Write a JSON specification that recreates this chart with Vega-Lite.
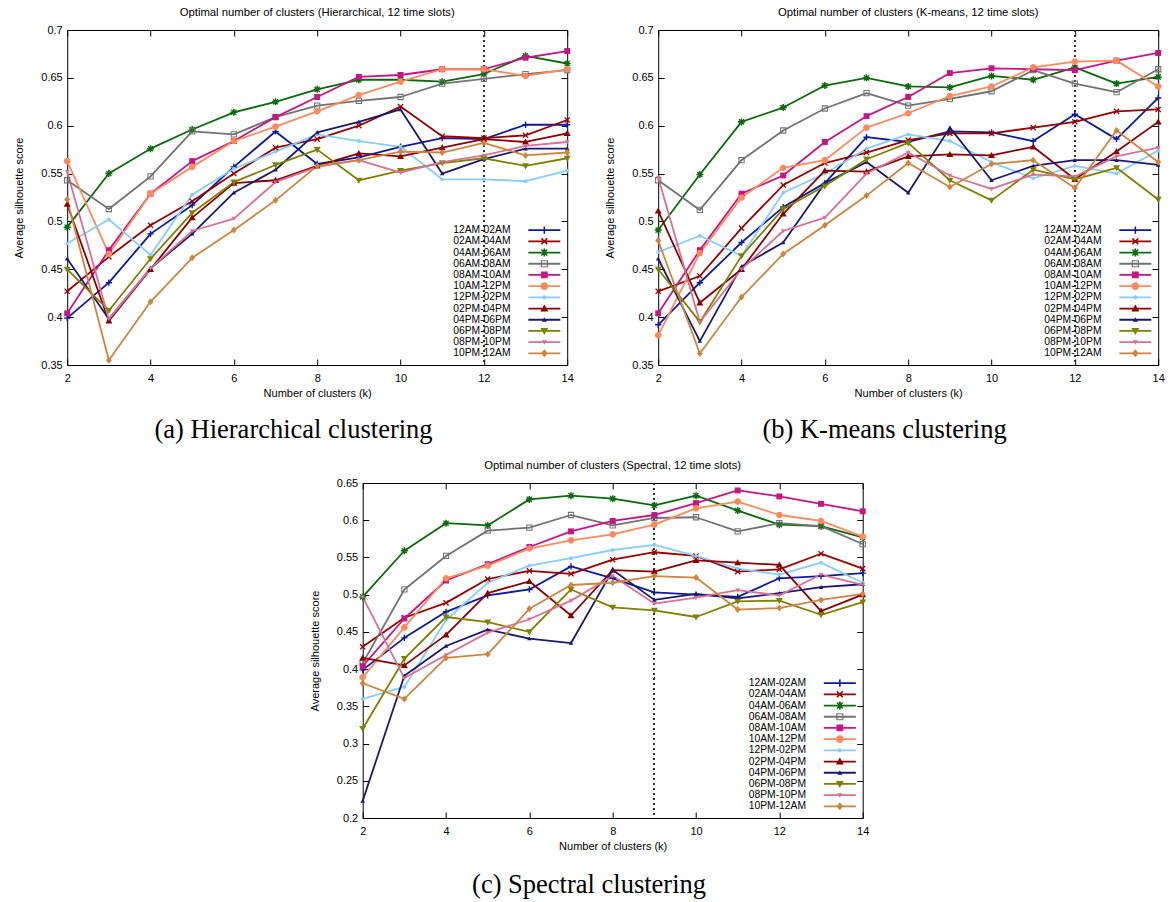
{
"$schema": "https://vega.github.io/schema/vega-lite/v6.json",
"background": "white",
"padding": {"left": 13, "top": 6, "right": 4, "bottom": 4},
"config": {
  "font": "Liberation Sans",
  "view": {"stroke": "black", "strokeWidth": 1},
  "axis": {"domain": false, "grid": false, "ticks": true, "tickColor": "black", "tickWidth": 1, "tickSize": -6, "labelFont": "Liberation Sans", "labelFontSize": 11, "labelColor": "black", "labelFlush": false, "labelOverlap": false, "titleFont": "Liberation Sans", "titleFontSize": 11, "titleFontWeight": "normal", "titleColor": "black"},
  "axisX": {"labelPadding": 13, "titlePadding": 4},
  "axisY": {"labelPadding": 11, "titlePadding": 16},
  "title": {"font": "Liberation Sans", "fontSize": 11.3, "fontWeight": "normal", "color": "black"},
  "legend": {"labelFont": "Liberation Sans", "labelFontSize": 10.3, "labelColor": "black"},
  "point": {"filled": true, "opacity": 1, "size": 49}
},
"datasets": {
"h": [
{"s":"12AM-02AM","k":2,"v":0.399},{"s":"12AM-02AM","k":3,"v":0.436},{"s":"12AM-02AM","k":4,"v":0.487},{"s":"12AM-02AM","k":5,"v":0.517},{"s":"12AM-02AM","k":6,"v":0.557},{"s":"12AM-02AM","k":7,"v":0.594},{"s":"12AM-02AM","k":8,"v":0.560},{"s":"12AM-02AM","k":9,"v":0.567},{"s":"12AM-02AM","k":10,"v":0.578},{"s":"12AM-02AM","k":11,"v":0.587},{"s":"12AM-02AM","k":12,"v":0.586},{"s":"12AM-02AM","k":13,"v":0.601},{"s":"12AM-02AM","k":14,"v":0.601},
{"s":"02AM-04AM","k":2,"v":0.427},{"s":"02AM-04AM","k":3,"v":0.463},{"s":"02AM-04AM","k":4,"v":0.496},{"s":"02AM-04AM","k":5,"v":0.521},{"s":"02AM-04AM","k":6,"v":0.550},{"s":"02AM-04AM","k":7,"v":0.577},{"s":"02AM-04AM","k":8,"v":0.586},{"s":"02AM-04AM","k":9,"v":0.600},{"s":"02AM-04AM","k":10,"v":0.620},{"s":"02AM-04AM","k":11,"v":0.589},{"s":"02AM-04AM","k":12,"v":0.587},{"s":"02AM-04AM","k":13,"v":0.590},{"s":"02AM-04AM","k":14,"v":0.606},
{"s":"04AM-06AM","k":2,"v":0.494},{"s":"04AM-06AM","k":3,"v":0.550},{"s":"04AM-06AM","k":4,"v":0.576},{"s":"04AM-06AM","k":5,"v":0.596},{"s":"04AM-06AM","k":6,"v":0.614},{"s":"04AM-06AM","k":7,"v":0.625},{"s":"04AM-06AM","k":8,"v":0.638},{"s":"04AM-06AM","k":9,"v":0.648},{"s":"04AM-06AM","k":10,"v":0.648},{"s":"04AM-06AM","k":11,"v":0.646},{"s":"04AM-06AM","k":12,"v":0.654},{"s":"04AM-06AM","k":13,"v":0.673},{"s":"04AM-06AM","k":14,"v":0.665},
{"s":"06AM-08AM","k":2,"v":0.543},{"s":"06AM-08AM","k":3,"v":0.513},{"s":"06AM-08AM","k":4,"v":0.547},{"s":"06AM-08AM","k":5,"v":0.594},{"s":"06AM-08AM","k":6,"v":0.591},{"s":"06AM-08AM","k":7,"v":0.609},{"s":"06AM-08AM","k":8,"v":0.621},{"s":"06AM-08AM","k":9,"v":0.626},{"s":"06AM-08AM","k":10,"v":0.630},{"s":"06AM-08AM","k":11,"v":0.644},{"s":"06AM-08AM","k":12,"v":0.649},{"s":"06AM-08AM","k":13,"v":0.654},{"s":"06AM-08AM","k":14,"v":0.658},
{"s":"08AM-10AM","k":2,"v":0.404},{"s":"08AM-10AM","k":3,"v":0.470},{"s":"08AM-10AM","k":4,"v":0.529},{"s":"08AM-10AM","k":5,"v":0.563},{"s":"08AM-10AM","k":6,"v":0.584},{"s":"08AM-10AM","k":7,"v":0.609},{"s":"08AM-10AM","k":8,"v":0.630},{"s":"08AM-10AM","k":9,"v":0.651},{"s":"08AM-10AM","k":10,"v":0.653},{"s":"08AM-10AM","k":11,"v":0.659},{"s":"08AM-10AM","k":12,"v":0.659},{"s":"08AM-10AM","k":13,"v":0.671},{"s":"08AM-10AM","k":14,"v":0.678},
{"s":"10AM-12PM","k":2,"v":0.563},{"s":"10AM-12PM","k":3,"v":0.466},{"s":"10AM-12PM","k":4,"v":0.529},{"s":"10AM-12PM","k":5,"v":0.557},{"s":"10AM-12PM","k":6,"v":0.584},{"s":"10AM-12PM","k":7,"v":0.599},{"s":"10AM-12PM","k":8,"v":0.615},{"s":"10AM-12PM","k":9,"v":0.632},{"s":"10AM-12PM","k":10,"v":0.646},{"s":"10AM-12PM","k":11,"v":0.659},{"s":"10AM-12PM","k":12,"v":0.659},{"s":"10AM-12PM","k":13,"v":0.652},{"s":"10AM-12PM","k":14,"v":0.659},
{"s":"12PM-02PM","k":2,"v":0.477},{"s":"12PM-02PM","k":3,"v":0.502},{"s":"12PM-02PM","k":4,"v":0.465},{"s":"12PM-02PM","k":5,"v":0.528},{"s":"12PM-02PM","k":6,"v":0.555},{"s":"12PM-02PM","k":7,"v":0.573},{"s":"12PM-02PM","k":8,"v":0.591},{"s":"12PM-02PM","k":9,"v":0.584},{"s":"12PM-02PM","k":10,"v":0.578},{"s":"12PM-02PM","k":11,"v":0.544},{"s":"12PM-02PM","k":12,"v":0.544},{"s":"12PM-02PM","k":13,"v":0.542},{"s":"12PM-02PM","k":14,"v":0.553},
{"s":"02PM-04PM","k":2,"v":0.518},{"s":"02PM-04PM","k":3,"v":0.396},{"s":"02PM-04PM","k":4,"v":0.450},{"s":"02PM-04PM","k":5,"v":0.504},{"s":"02PM-04PM","k":6,"v":0.540},{"s":"02PM-04PM","k":7,"v":0.543},{"s":"02PM-04PM","k":8,"v":0.558},{"s":"02PM-04PM","k":9,"v":0.571},{"s":"02PM-04PM","k":10,"v":0.568},{"s":"02PM-04PM","k":11,"v":0.577},{"s":"02PM-04PM","k":12,"v":0.586},{"s":"02PM-04PM","k":13,"v":0.583},{"s":"02PM-04PM","k":14,"v":0.592},
{"s":"04PM-06PM","k":2,"v":0.461},{"s":"04PM-06PM","k":3,"v":0.398},{"s":"04PM-06PM","k":4,"v":0.451},{"s":"04PM-06PM","k":5,"v":0.487},{"s":"04PM-06PM","k":6,"v":0.530},{"s":"04PM-06PM","k":7,"v":0.554},{"s":"04PM-06PM","k":8,"v":0.593},{"s":"04PM-06PM","k":9,"v":0.604},{"s":"04PM-06PM","k":10,"v":0.617},{"s":"04PM-06PM","k":11,"v":0.550},{"s":"04PM-06PM","k":12,"v":0.565},{"s":"04PM-06PM","k":13,"v":0.576},{"s":"04PM-06PM","k":14,"v":0.576},
{"s":"06PM-08PM","k":2,"v":0.450},{"s":"06PM-08PM","k":3,"v":0.407},{"s":"06PM-08PM","k":4,"v":0.461},{"s":"06PM-08PM","k":5,"v":0.509},{"s":"06PM-08PM","k":6,"v":0.541},{"s":"06PM-08PM","k":7,"v":0.559},{"s":"06PM-08PM","k":8,"v":0.575},{"s":"06PM-08PM","k":9,"v":0.543},{"s":"06PM-08PM","k":10,"v":0.553},{"s":"06PM-08PM","k":11,"v":0.561},{"s":"06PM-08PM","k":12,"v":0.566},{"s":"06PM-08PM","k":13,"v":0.558},{"s":"06PM-08PM","k":14,"v":0.566},
{"s":"08PM-10PM","k":2,"v":0.552},{"s":"08PM-10PM","k":3,"v":0.398},{"s":"08PM-10PM","k":4,"v":0.451},{"s":"08PM-10PM","k":5,"v":0.490},{"s":"08PM-10PM","k":6,"v":0.503},{"s":"08PM-10PM","k":7,"v":0.541},{"s":"08PM-10PM","k":8,"v":0.557},{"s":"08PM-10PM","k":9,"v":0.564},{"s":"08PM-10PM","k":10,"v":0.551},{"s":"08PM-10PM","k":11,"v":0.562},{"s":"08PM-10PM","k":12,"v":0.569},{"s":"08PM-10PM","k":13,"v":0.579},{"s":"08PM-10PM","k":14,"v":0.583},
{"s":"10PM-12AM","k":2,"v":0.523},{"s":"10PM-12AM","k":3,"v":0.355},{"s":"10PM-12AM","k":4,"v":0.416},{"s":"10PM-12AM","k":5,"v":0.462},{"s":"10PM-12AM","k":6,"v":0.491},{"s":"10PM-12AM","k":7,"v":0.522},{"s":"10PM-12AM","k":8,"v":0.558},{"s":"10PM-12AM","k":9,"v":0.564},{"s":"10PM-12AM","k":10,"v":0.573},{"s":"10PM-12AM","k":11,"v":0.572},{"s":"10PM-12AM","k":12,"v":0.582},{"s":"10PM-12AM","k":13,"v":0.569},{"s":"10PM-12AM","k":14,"v":0.572}
],
"km": [
{"s":"12AM-02AM","k":2,"v":0.392},{"s":"12AM-02AM","k":3,"v":0.436},{"s":"12AM-02AM","k":4,"v":0.478},{"s":"12AM-02AM","k":5,"v":0.515},{"s":"12AM-02AM","k":6,"v":0.540},{"s":"12AM-02AM","k":7,"v":0.588},{"s":"12AM-02AM","k":8,"v":0.583},{"s":"12AM-02AM","k":9,"v":0.594},{"s":"12AM-02AM","k":10,"v":0.593},{"s":"12AM-02AM","k":11,"v":0.584},{"s":"12AM-02AM","k":12,"v":0.612},{"s":"12AM-02AM","k":13,"v":0.586},{"s":"12AM-02AM","k":14,"v":0.629},
{"s":"02AM-04AM","k":2,"v":0.427},{"s":"02AM-04AM","k":3,"v":0.443},{"s":"02AM-04AM","k":4,"v":0.493},{"s":"02AM-04AM","k":5,"v":0.538},{"s":"02AM-04AM","k":6,"v":0.561},{"s":"02AM-04AM","k":7,"v":0.572},{"s":"02AM-04AM","k":8,"v":0.585},{"s":"02AM-04AM","k":9,"v":0.592},{"s":"02AM-04AM","k":10,"v":0.592},{"s":"02AM-04AM","k":11,"v":0.598},{"s":"02AM-04AM","k":12,"v":0.604},{"s":"02AM-04AM","k":13,"v":0.615},{"s":"02AM-04AM","k":14,"v":0.617},
{"s":"04AM-06AM","k":2,"v":0.491},{"s":"04AM-06AM","k":3,"v":0.549},{"s":"04AM-06AM","k":4,"v":0.604},{"s":"04AM-06AM","k":5,"v":0.619},{"s":"04AM-06AM","k":6,"v":0.642},{"s":"04AM-06AM","k":7,"v":0.650},{"s":"04AM-06AM","k":8,"v":0.641},{"s":"04AM-06AM","k":9,"v":0.640},{"s":"04AM-06AM","k":10,"v":0.652},{"s":"04AM-06AM","k":11,"v":0.648},{"s":"04AM-06AM","k":12,"v":0.661},{"s":"04AM-06AM","k":13,"v":0.644},{"s":"04AM-06AM","k":14,"v":0.651},
{"s":"06AM-08AM","k":2,"v":0.543},{"s":"06AM-08AM","k":3,"v":0.512},{"s":"06AM-08AM","k":4,"v":0.564},{"s":"06AM-08AM","k":5,"v":0.595},{"s":"06AM-08AM","k":6,"v":0.618},{"s":"06AM-08AM","k":7,"v":0.634},{"s":"06AM-08AM","k":8,"v":0.621},{"s":"06AM-08AM","k":9,"v":0.628},{"s":"06AM-08AM","k":10,"v":0.636},{"s":"06AM-08AM","k":11,"v":0.658},{"s":"06AM-08AM","k":12,"v":0.644},{"s":"06AM-08AM","k":13,"v":0.635},{"s":"06AM-08AM","k":14,"v":0.659},
{"s":"08AM-10AM","k":2,"v":0.404},{"s":"08AM-10AM","k":3,"v":0.470},{"s":"08AM-10AM","k":4,"v":0.529},{"s":"08AM-10AM","k":5,"v":0.548},{"s":"08AM-10AM","k":6,"v":0.583},{"s":"08AM-10AM","k":7,"v":0.610},{"s":"08AM-10AM","k":8,"v":0.630},{"s":"08AM-10AM","k":9,"v":0.655},{"s":"08AM-10AM","k":10,"v":0.660},{"s":"08AM-10AM","k":11,"v":0.659},{"s":"08AM-10AM","k":12,"v":0.658},{"s":"08AM-10AM","k":13,"v":0.668},{"s":"08AM-10AM","k":14,"v":0.676},
{"s":"10AM-12PM","k":2,"v":0.381},{"s":"10AM-12PM","k":3,"v":0.467},{"s":"10AM-12PM","k":4,"v":0.525},{"s":"10AM-12PM","k":5,"v":0.556},{"s":"10AM-12PM","k":6,"v":0.564},{"s":"10AM-12PM","k":7,"v":0.598},{"s":"10AM-12PM","k":8,"v":0.613},{"s":"10AM-12PM","k":9,"v":0.631},{"s":"10AM-12PM","k":10,"v":0.641},{"s":"10AM-12PM","k":11,"v":0.661},{"s":"10AM-12PM","k":12,"v":0.667},{"s":"10AM-12PM","k":13,"v":0.668},{"s":"10AM-12PM","k":14,"v":0.641},
{"s":"12PM-02PM","k":2,"v":0.468},{"s":"12PM-02PM","k":3,"v":0.485},{"s":"12PM-02PM","k":4,"v":0.464},{"s":"12PM-02PM","k":5,"v":0.530},{"s":"12PM-02PM","k":6,"v":0.550},{"s":"12PM-02PM","k":7,"v":0.576},{"s":"12PM-02PM","k":8,"v":0.591},{"s":"12PM-02PM","k":9,"v":0.584},{"s":"12PM-02PM","k":10,"v":0.562},{"s":"12PM-02PM","k":11,"v":0.545},{"s":"12PM-02PM","k":12,"v":0.558},{"s":"12PM-02PM","k":13,"v":0.550},{"s":"12PM-02PM","k":14,"v":0.574},
{"s":"02PM-04PM","k":2,"v":0.511},{"s":"02PM-04PM","k":3,"v":0.415},{"s":"02PM-04PM","k":4,"v":0.450},{"s":"02PM-04PM","k":5,"v":0.508},{"s":"02PM-04PM","k":6,"v":0.553},{"s":"02PM-04PM","k":7,"v":0.552},{"s":"02PM-04PM","k":8,"v":0.568},{"s":"02PM-04PM","k":9,"v":0.570},{"s":"02PM-04PM","k":10,"v":0.569},{"s":"02PM-04PM","k":11,"v":0.578},{"s":"02PM-04PM","k":12,"v":0.544},{"s":"02PM-04PM","k":13,"v":0.573},{"s":"02PM-04PM","k":14,"v":0.604},
{"s":"04PM-06PM","k":2,"v":0.461},{"s":"04PM-06PM","k":3,"v":0.375},{"s":"04PM-06PM","k":4,"v":0.453},{"s":"04PM-06PM","k":5,"v":0.478},{"s":"04PM-06PM","k":6,"v":0.540},{"s":"04PM-06PM","k":7,"v":0.562},{"s":"04PM-06PM","k":8,"v":0.530},{"s":"04PM-06PM","k":9,"v":0.598},{"s":"04PM-06PM","k":10,"v":0.543},{"s":"04PM-06PM","k":11,"v":0.558},{"s":"04PM-06PM","k":12,"v":0.564},{"s":"04PM-06PM","k":13,"v":0.564},{"s":"04PM-06PM","k":14,"v":0.559},
{"s":"06PM-08PM","k":2,"v":0.450},{"s":"06PM-08PM","k":3,"v":0.395},{"s":"06PM-08PM","k":4,"v":0.464},{"s":"06PM-08PM","k":5,"v":0.513},{"s":"06PM-08PM","k":6,"v":0.537},{"s":"06PM-08PM","k":7,"v":0.565},{"s":"06PM-08PM","k":8,"v":0.582},{"s":"06PM-08PM","k":9,"v":0.543},{"s":"06PM-08PM","k":10,"v":0.522},{"s":"06PM-08PM","k":11,"v":0.554},{"s":"06PM-08PM","k":12,"v":0.544},{"s":"06PM-08PM","k":13,"v":0.556},{"s":"06PM-08PM","k":14,"v":0.523},
{"s":"08PM-10PM","k":2,"v":0.546},{"s":"08PM-10PM","k":3,"v":0.395},{"s":"08PM-10PM","k":4,"v":0.450},{"s":"08PM-10PM","k":5,"v":0.490},{"s":"08PM-10PM","k":6,"v":0.504},{"s":"08PM-10PM","k":7,"v":0.550},{"s":"08PM-10PM","k":8,"v":0.572},{"s":"08PM-10PM","k":9,"v":0.548},{"s":"08PM-10PM","k":10,"v":0.534},{"s":"08PM-10PM","k":11,"v":0.549},{"s":"08PM-10PM","k":12,"v":0.547},{"s":"08PM-10PM","k":13,"v":0.568},{"s":"08PM-10PM","k":14,"v":0.577},
{"s":"10PM-12AM","k":2,"v":0.480},{"s":"10PM-12AM","k":3,"v":0.362},{"s":"10PM-12AM","k":4,"v":0.421},{"s":"10PM-12AM","k":5,"v":0.466},{"s":"10PM-12AM","k":6,"v":0.496},{"s":"10PM-12AM","k":7,"v":0.527},{"s":"10PM-12AM","k":8,"v":0.561},{"s":"10PM-12AM","k":9,"v":0.536},{"s":"10PM-12AM","k":10,"v":0.560},{"s":"10PM-12AM","k":11,"v":0.564},{"s":"10PM-12AM","k":12,"v":0.535},{"s":"10PM-12AM","k":13,"v":0.595},{"s":"10PM-12AM","k":14,"v":0.562}
],
"sp": [
{"s":"12AM-02AM","k":2,"v":0.399},{"s":"12AM-02AM","k":3,"v":0.442},{"s":"12AM-02AM","k":4,"v":0.477},{"s":"12AM-02AM","k":5,"v":0.499},{"s":"12AM-02AM","k":6,"v":0.507},{"s":"12AM-02AM","k":7,"v":0.538},{"s":"12AM-02AM","k":8,"v":0.522},{"s":"12AM-02AM","k":9,"v":0.503},{"s":"12AM-02AM","k":10,"v":0.500},{"s":"12AM-02AM","k":11,"v":0.497},{"s":"12AM-02AM","k":12,"v":0.522},{"s":"12AM-02AM","k":13,"v":0.525},{"s":"12AM-02AM","k":14,"v":0.529},
{"s":"02AM-04AM","k":2,"v":0.430},{"s":"02AM-04AM","k":3,"v":0.469},{"s":"02AM-04AM","k":4,"v":0.489},{"s":"02AM-04AM","k":5,"v":0.521},{"s":"02AM-04AM","k":6,"v":0.532},{"s":"02AM-04AM","k":7,"v":0.528},{"s":"02AM-04AM","k":8,"v":0.547},{"s":"02AM-04AM","k":9,"v":0.557},{"s":"02AM-04AM","k":10,"v":0.552},{"s":"02AM-04AM","k":11,"v":0.531},{"s":"02AM-04AM","k":12,"v":0.534},{"s":"02AM-04AM","k":13,"v":0.555},{"s":"02AM-04AM","k":14,"v":0.535},
{"s":"04AM-06AM","k":2,"v":0.497},{"s":"04AM-06AM","k":3,"v":0.559},{"s":"04AM-06AM","k":4,"v":0.596},{"s":"04AM-06AM","k":5,"v":0.593},{"s":"04AM-06AM","k":6,"v":0.628},{"s":"04AM-06AM","k":7,"v":0.633},{"s":"04AM-06AM","k":8,"v":0.629},{"s":"04AM-06AM","k":9,"v":0.620},{"s":"04AM-06AM","k":10,"v":0.633},{"s":"04AM-06AM","k":11,"v":0.613},{"s":"04AM-06AM","k":12,"v":0.594},{"s":"04AM-06AM","k":13,"v":0.592},{"s":"04AM-06AM","k":14,"v":0.577},
{"s":"06AM-08AM","k":2,"v":0.408},{"s":"06AM-08AM","k":3,"v":0.507},{"s":"06AM-08AM","k":4,"v":0.552},{"s":"06AM-08AM","k":5,"v":0.586},{"s":"06AM-08AM","k":6,"v":0.590},{"s":"06AM-08AM","k":7,"v":0.607},{"s":"06AM-08AM","k":8,"v":0.593},{"s":"06AM-08AM","k":9,"v":0.603},{"s":"06AM-08AM","k":10,"v":0.604},{"s":"06AM-08AM","k":11,"v":0.585},{"s":"06AM-08AM","k":12,"v":0.596},{"s":"06AM-08AM","k":13,"v":0.592},{"s":"06AM-08AM","k":14,"v":0.568},
{"s":"08AM-10AM","k":2,"v":0.404},{"s":"08AM-10AM","k":3,"v":0.468},{"s":"08AM-10AM","k":4,"v":0.519},{"s":"08AM-10AM","k":5,"v":0.541},{"s":"08AM-10AM","k":6,"v":0.564},{"s":"08AM-10AM","k":7,"v":0.585},{"s":"08AM-10AM","k":8,"v":0.599},{"s":"08AM-10AM","k":9,"v":0.607},{"s":"08AM-10AM","k":10,"v":0.623},{"s":"08AM-10AM","k":11,"v":0.640},{"s":"08AM-10AM","k":12,"v":0.632},{"s":"08AM-10AM","k":13,"v":0.622},{"s":"08AM-10AM","k":14,"v":0.612},
{"s":"10AM-12PM","k":2,"v":0.389},{"s":"10AM-12PM","k":3,"v":0.456},{"s":"10AM-12PM","k":4,"v":0.522},{"s":"10AM-12PM","k":5,"v":0.539},{"s":"10AM-12PM","k":6,"v":0.562},{"s":"10AM-12PM","k":7,"v":0.573},{"s":"10AM-12PM","k":8,"v":0.581},{"s":"10AM-12PM","k":9,"v":0.594},{"s":"10AM-12PM","k":10,"v":0.616},{"s":"10AM-12PM","k":11,"v":0.625},{"s":"10AM-12PM","k":12,"v":0.607},{"s":"10AM-12PM","k":13,"v":0.599},{"s":"10AM-12PM","k":14,"v":0.578},
{"s":"12PM-02PM","k":2,"v":0.360},{"s":"12PM-02PM","k":3,"v":0.376},{"s":"12PM-02PM","k":4,"v":0.466},{"s":"12PM-02PM","k":5,"v":0.516},{"s":"12PM-02PM","k":6,"v":0.539},{"s":"12PM-02PM","k":7,"v":0.549},{"s":"12PM-02PM","k":8,"v":0.560},{"s":"12PM-02PM","k":9,"v":0.567},{"s":"12PM-02PM","k":10,"v":0.552},{"s":"12PM-02PM","k":11,"v":0.535},{"s":"12PM-02PM","k":12,"v":0.527},{"s":"12PM-02PM","k":13,"v":0.543},{"s":"12PM-02PM","k":14,"v":0.516},
{"s":"02PM-04PM","k":2,"v":0.415},{"s":"02PM-04PM","k":3,"v":0.405},{"s":"02PM-04PM","k":4,"v":0.446},{"s":"02PM-04PM","k":5,"v":0.502},{"s":"02PM-04PM","k":6,"v":0.518},{"s":"02PM-04PM","k":7,"v":0.472},{"s":"02PM-04PM","k":8,"v":0.533},{"s":"02PM-04PM","k":9,"v":0.531},{"s":"02PM-04PM","k":10,"v":0.546},{"s":"02PM-04PM","k":11,"v":0.543},{"s":"02PM-04PM","k":12,"v":0.540},{"s":"02PM-04PM","k":13,"v":0.478},{"s":"02PM-04PM","k":14,"v":0.500},
{"s":"04PM-06PM","k":2,"v":0.223},{"s":"04PM-06PM","k":3,"v":0.391},{"s":"04PM-06PM","k":4,"v":0.431},{"s":"04PM-06PM","k":5,"v":0.453},{"s":"04PM-06PM","k":6,"v":0.441},{"s":"04PM-06PM","k":7,"v":0.435},{"s":"04PM-06PM","k":8,"v":0.533},{"s":"04PM-06PM","k":9,"v":0.493},{"s":"04PM-06PM","k":10,"v":0.501},{"s":"04PM-06PM","k":11,"v":0.495},{"s":"04PM-06PM","k":12,"v":0.502},{"s":"04PM-06PM","k":13,"v":0.510},{"s":"04PM-06PM","k":14,"v":0.514},
{"s":"06PM-08PM","k":2,"v":0.320},{"s":"06PM-08PM","k":3,"v":0.414},{"s":"06PM-08PM","k":4,"v":0.470},{"s":"06PM-08PM","k":5,"v":0.463},{"s":"06PM-08PM","k":6,"v":0.450},{"s":"06PM-08PM","k":7,"v":0.507},{"s":"06PM-08PM","k":8,"v":0.483},{"s":"06PM-08PM","k":9,"v":0.479},{"s":"06PM-08PM","k":10,"v":0.470},{"s":"06PM-08PM","k":11,"v":0.491},{"s":"06PM-08PM","k":12,"v":0.492},{"s":"06PM-08PM","k":13,"v":0.473},{"s":"06PM-08PM","k":14,"v":0.490},
{"s":"08PM-10PM","k":2,"v":0.497},{"s":"08PM-10PM","k":3,"v":0.388},{"s":"08PM-10PM","k":4,"v":0.419},{"s":"08PM-10PM","k":5,"v":0.449},{"s":"08PM-10PM","k":6,"v":0.467},{"s":"08PM-10PM","k":7,"v":0.492},{"s":"08PM-10PM","k":8,"v":0.525},{"s":"08PM-10PM","k":9,"v":0.488},{"s":"08PM-10PM","k":10,"v":0.496},{"s":"08PM-10PM","k":11,"v":0.506},{"s":"08PM-10PM","k":12,"v":0.499},{"s":"08PM-10PM","k":13,"v":0.527},{"s":"08PM-10PM","k":14,"v":0.513},
{"s":"10PM-12AM","k":2,"v":0.381},{"s":"10PM-12AM","k":3,"v":0.360},{"s":"10PM-12AM","k":4,"v":0.415},{"s":"10PM-12AM","k":5,"v":0.420},{"s":"10PM-12AM","k":6,"v":0.481},{"s":"10PM-12AM","k":7,"v":0.513},{"s":"10PM-12AM","k":8,"v":0.516},{"s":"10PM-12AM","k":9,"v":0.525},{"s":"10PM-12AM","k":10,"v":0.523},{"s":"10PM-12AM","k":11,"v":0.480},{"s":"10PM-12AM","k":12,"v":0.482},{"s":"10PM-12AM","k":13,"v":0.493},{"s":"10PM-12AM","k":14,"v":0.501}
]
},
"resolve": {"scale": {"color": "independent", "shape": "independent"}},
"center": true,
"spacing": 16,
"vconcat": [
{
"hconcat": [
{
"resolve": {"scale": {"color": "independent", "shape": "independent"}},
"title": {"text": "(a) Hierarchical clustering", "orient": "bottom", "anchor": "middle", "font": "Liberation Serif", "fontSize": 26.5, "fontWeight": "normal", "color": "black", "offset": 18},
"vconcat": [
{
"width": 500, "height": 335,
"title": {"text": "Optimal number of clusters (Hierarchical, 12 time slots)", "offset": 6},
"data": {"name": "h"},
"resolve": {"axis": {"x": "independent", "y": "independent"}},
"layer": [
{"transform": [{"filter": "datum.k < 0"}], "mark": {"type": "point"},
 "encoding": {
  "x": {"field": "k", "type": "quantitative", "scale": {"domain": [2, 14], "nice": false, "zero": false}, "axis": {"orient": "top", "values": [2, 4, 6, 8, 10, 12, 14], "labels": false, "title": null}},
  "y": {"field": "v", "type": "quantitative", "scale": {"domain": [0.35, 0.7], "nice": false, "zero": false}, "axis": {"orient": "right", "values": [0.35, 0.4, 0.45, 0.5, 0.55, 0.6, 0.65, 0.7], "labels": false, "title": null}},
  "color": {"field": "s", "type": "nominal", "scale": {"domain": ["12AM-02AM","02AM-04AM","04AM-06AM","06AM-08AM","08AM-10AM","10AM-12PM","12PM-02PM","02PM-04PM","04PM-06PM","06PM-08PM","08PM-10PM","10PM-12AM"], "range": ["#0d1b9e","#990000","#0b6b0b","#737373","#c71585","#fe8a5c","#87cefa","#8b0000","#191970","#808000","#db7093","#cd853f"]},
   "legend": {"orient": "bottom-right", "title": null, "offset": 6, "symbolSize": 64, "labelAlign": "right", "labelOffset": -39, "rowPadding": 0.2, "symbolOpacity": 1, "symbolStrokeWidth": 0}},
  "shape": {"field": "s", "type": "nominal", "scale": {"domain": ["12AM-02AM","02AM-04AM","04AM-06AM","06AM-08AM","08AM-10AM","10AM-12PM","12PM-02PM","02PM-04PM","04PM-06PM","06PM-08PM","08PM-10PM","10PM-12AM"], "range": ["M-4,-0.22H4V0.22H-4ZM-0.9,-0.2H-0.2V-0.9H0.2V-0.2H0.9V0.2H0.2V0.9H-0.2V0.2H-0.9Z","M-4,-0.22H4V0.22H-4ZM-0.87,-0.61L-0.61,-0.87L0,-0.26L0.61,-0.87L0.87,-0.61L0.26,0L0.87,0.61L0.61,0.87L0,0.26L-0.61,0.87L-0.87,0.61L-0.26,0Z","M-4,-0.22H4V0.22H-4ZM-1,-0.22H-0.22V-1H0.22V-0.22H1V0.22H0.22V1H-0.22V0.22H-1ZM-0.87,-0.61L-0.61,-0.87L0,-0.26L0.61,-0.87L0.87,-0.61L0.26,0L0.87,0.61L0.61,0.87L0,0.26L-0.61,0.87L-0.87,0.61L-0.26,0Z","M-4,-0.22H4V0.22H-4ZM-0.9,-0.9H0.9V0.9H-0.9ZM-0.6,-0.6V0.6H0.6V-0.6ZM-0.2,-0.2H0.2V0.2H-0.2Z","M-4,-0.22H4V0.22H-4ZM-0.85,-0.85H0.85V0.85H-0.85Z","M-4,-0.22H4V0.22H-4ZM0.95,0A0.95,0.95,0,1,1,-0.95,0A0.95,0.95,0,1,1,0.95,0Z","M-4,-0.22H4V0.22H-4ZM0.55,0A0.55,0.55,0,1,1,-0.55,0A0.55,0.55,0,1,1,0.55,0Z","M-4,-0.22H4V0.22H-4ZM0,-1L1,0.75H-1Z","M-4,-0.22H4V0.22H-4ZM0,-0.65L0.65,0.5H-0.65Z","M-4,-0.22H4V0.22H-4ZM0,1L-1,-0.75H1Z","M-4,-0.22H4V0.22H-4ZM0,0.65L-0.65,-0.5H0.65Z","M-4,-0.22H4V0.22H-4ZM0,-1L0.85,0L0,1L-0.85,0Z"]},
   "legend": {"orient": "bottom-right", "title": null, "offset": 6, "symbolSize": 64, "labelAlign": "right", "labelOffset": -39, "rowPadding": 0.2, "symbolOpacity": 1, "symbolStrokeWidth": 0}}
 }},
{"mark": {"type": "rule", "color": "#333333", "strokeDash": [2, 3], "strokeWidth": 1}, "encoding": {"x": {"datum": 12, "type": "quantitative", "axis": null}}},
{"mark": {"type": "line", "strokeWidth": 1.8, "strokeJoin": "round"},
 "encoding": {
  "x": {"field": "k", "type": "quantitative", "axis": {"values": [2, 4, 6, 8, 10, 12, 14], "title": "Number of clusters (k)"}},
  "y": {"field": "v", "type": "quantitative", "axis": {"values": [0.35, 0.4, 0.45, 0.5, 0.55, 0.6, 0.65, 0.7], "format": ".2~f", "title": "Average silhouette score"}},
  "color": {"field": "s", "type": "nominal"}
 }},
{"transform": [{"filter": {"field": "s", "equal": "12AM-02AM"}}], "mark": {"type": "point", "shape": "M-0.9,-0.2H-0.2V-0.9H0.2V-0.2H0.9V0.2H0.2V0.9H-0.2V0.2H-0.9Z"}, "encoding": {"x": {"field": "k", "type": "quantitative", "axis": null}, "y": {"field": "v", "type": "quantitative", "axis": null}, "color": {"field": "s", "type": "nominal"}}},
{"transform": [{"filter": {"field": "s", "equal": "02AM-04AM"}}], "mark": {"type": "point", "shape": "M-0.87,-0.61L-0.61,-0.87L0,-0.26L0.61,-0.87L0.87,-0.61L0.26,0L0.87,0.61L0.61,0.87L0,0.26L-0.61,0.87L-0.87,0.61L-0.26,0Z"}, "encoding": {"x": {"field": "k", "type": "quantitative", "axis": null}, "y": {"field": "v", "type": "quantitative", "axis": null}, "color": {"field": "s", "type": "nominal"}}},
{"transform": [{"filter": {"field": "s", "equal": "04AM-06AM"}}], "mark": {"type": "point", "shape": "M-1,-0.22H-0.22V-1H0.22V-0.22H1V0.22H0.22V1H-0.22V0.22H-1ZM-0.87,-0.61L-0.61,-0.87L0,-0.26L0.61,-0.87L0.87,-0.61L0.26,0L0.87,0.61L0.61,0.87L0,0.26L-0.61,0.87L-0.87,0.61L-0.26,0Z"}, "encoding": {"x": {"field": "k", "type": "quantitative", "axis": null}, "y": {"field": "v", "type": "quantitative", "axis": null}, "color": {"field": "s", "type": "nominal"}}},
{"transform": [{"filter": {"field": "s", "equal": "06AM-08AM"}}], "mark": {"type": "point", "shape": "M-0.9,-0.9H0.9V0.9H-0.9ZM-0.6,-0.6V0.6H0.6V-0.6ZM-0.2,-0.2H0.2V0.2H-0.2Z"}, "encoding": {"x": {"field": "k", "type": "quantitative", "axis": null}, "y": {"field": "v", "type": "quantitative", "axis": null}, "color": {"field": "s", "type": "nominal"}}},
{"transform": [{"filter": {"field": "s", "equal": "08AM-10AM"}}], "mark": {"type": "point", "shape": "M-0.85,-0.85H0.85V0.85H-0.85Z"}, "encoding": {"x": {"field": "k", "type": "quantitative", "axis": null}, "y": {"field": "v", "type": "quantitative", "axis": null}, "color": {"field": "s", "type": "nominal"}}},
{"transform": [{"filter": {"field": "s", "equal": "10AM-12PM"}}], "mark": {"type": "point", "shape": "M0.95,0A0.95,0.95,0,1,1,-0.95,0A0.95,0.95,0,1,1,0.95,0Z"}, "encoding": {"x": {"field": "k", "type": "quantitative", "axis": null}, "y": {"field": "v", "type": "quantitative", "axis": null}, "color": {"field": "s", "type": "nominal"}}},
{"transform": [{"filter": {"field": "s", "equal": "12PM-02PM"}}], "mark": {"type": "point", "shape": "M0.55,0A0.55,0.55,0,1,1,-0.55,0A0.55,0.55,0,1,1,0.55,0Z"}, "encoding": {"x": {"field": "k", "type": "quantitative", "axis": null}, "y": {"field": "v", "type": "quantitative", "axis": null}, "color": {"field": "s", "type": "nominal"}}},
{"transform": [{"filter": {"field": "s", "equal": "02PM-04PM"}}], "mark": {"type": "point", "shape": "M0,-1L1,0.75H-1Z"}, "encoding": {"x": {"field": "k", "type": "quantitative", "axis": null}, "y": {"field": "v", "type": "quantitative", "axis": null}, "color": {"field": "s", "type": "nominal"}}},
{"transform": [{"filter": {"field": "s", "equal": "04PM-06PM"}}], "mark": {"type": "point", "shape": "M0,-0.65L0.65,0.5H-0.65Z"}, "encoding": {"x": {"field": "k", "type": "quantitative", "axis": null}, "y": {"field": "v", "type": "quantitative", "axis": null}, "color": {"field": "s", "type": "nominal"}}},
{"transform": [{"filter": {"field": "s", "equal": "06PM-08PM"}}], "mark": {"type": "point", "shape": "M0,1L-1,-0.75H1Z"}, "encoding": {"x": {"field": "k", "type": "quantitative", "axis": null}, "y": {"field": "v", "type": "quantitative", "axis": null}, "color": {"field": "s", "type": "nominal"}}},
{"transform": [{"filter": {"field": "s", "equal": "08PM-10PM"}}], "mark": {"type": "point", "shape": "M0,0.65L-0.65,-0.5H0.65Z"}, "encoding": {"x": {"field": "k", "type": "quantitative", "axis": null}, "y": {"field": "v", "type": "quantitative", "axis": null}, "color": {"field": "s", "type": "nominal"}}},
{"transform": [{"filter": {"field": "s", "equal": "10PM-12AM"}}], "mark": {"type": "point", "shape": "M0,-1L0.85,0L0,1L-0.85,0Z"}, "encoding": {"x": {"field": "k", "type": "quantitative", "axis": null}, "y": {"field": "v", "type": "quantitative", "axis": null}, "color": {"field": "s", "type": "nominal"}}}
]
}
]
},
{
"resolve": {"scale": {"color": "independent", "shape": "independent"}},
"title": {"text": "(b) K-means clustering", "orient": "bottom", "anchor": "middle", "font": "Liberation Serif", "fontSize": 26.5, "fontWeight": "normal", "color": "black", "offset": 18},
"vconcat": [
{
"width": 500, "height": 335,
"title": {"text": "Optimal number of clusters (K-means, 12 time slots)", "offset": 6},
"data": {"name": "km"},
"resolve": {"axis": {"x": "independent", "y": "independent"}},
"layer": [
{"transform": [{"filter": "datum.k < 0"}], "mark": {"type": "point"},
 "encoding": {
  "x": {"field": "k", "type": "quantitative", "scale": {"domain": [2, 14], "nice": false, "zero": false}, "axis": {"orient": "top", "values": [2, 4, 6, 8, 10, 12, 14], "labels": false, "title": null}},
  "y": {"field": "v", "type": "quantitative", "scale": {"domain": [0.35, 0.7], "nice": false, "zero": false}, "axis": {"orient": "right", "values": [0.35, 0.4, 0.45, 0.5, 0.55, 0.6, 0.65, 0.7], "labels": false, "title": null}},
  "color": {"field": "s", "type": "nominal", "scale": {"domain": ["12AM-02AM","02AM-04AM","04AM-06AM","06AM-08AM","08AM-10AM","10AM-12PM","12PM-02PM","02PM-04PM","04PM-06PM","06PM-08PM","08PM-10PM","10PM-12AM"], "range": ["#0d1b9e","#990000","#0b6b0b","#737373","#c71585","#fe8a5c","#87cefa","#8b0000","#191970","#808000","#db7093","#cd853f"]},
   "legend": {"orient": "bottom-right", "title": null, "offset": 6, "symbolSize": 64, "labelAlign": "right", "labelOffset": -39, "rowPadding": 0.2, "symbolOpacity": 1, "symbolStrokeWidth": 0}},
  "shape": {"field": "s", "type": "nominal", "scale": {"domain": ["12AM-02AM","02AM-04AM","04AM-06AM","06AM-08AM","08AM-10AM","10AM-12PM","12PM-02PM","02PM-04PM","04PM-06PM","06PM-08PM","08PM-10PM","10PM-12AM"], "range": ["M-4,-0.22H4V0.22H-4ZM-0.9,-0.2H-0.2V-0.9H0.2V-0.2H0.9V0.2H0.2V0.9H-0.2V0.2H-0.9Z","M-4,-0.22H4V0.22H-4ZM-0.87,-0.61L-0.61,-0.87L0,-0.26L0.61,-0.87L0.87,-0.61L0.26,0L0.87,0.61L0.61,0.87L0,0.26L-0.61,0.87L-0.87,0.61L-0.26,0Z","M-4,-0.22H4V0.22H-4ZM-1,-0.22H-0.22V-1H0.22V-0.22H1V0.22H0.22V1H-0.22V0.22H-1ZM-0.87,-0.61L-0.61,-0.87L0,-0.26L0.61,-0.87L0.87,-0.61L0.26,0L0.87,0.61L0.61,0.87L0,0.26L-0.61,0.87L-0.87,0.61L-0.26,0Z","M-4,-0.22H4V0.22H-4ZM-0.9,-0.9H0.9V0.9H-0.9ZM-0.6,-0.6V0.6H0.6V-0.6ZM-0.2,-0.2H0.2V0.2H-0.2Z","M-4,-0.22H4V0.22H-4ZM-0.85,-0.85H0.85V0.85H-0.85Z","M-4,-0.22H4V0.22H-4ZM0.95,0A0.95,0.95,0,1,1,-0.95,0A0.95,0.95,0,1,1,0.95,0Z","M-4,-0.22H4V0.22H-4ZM0.55,0A0.55,0.55,0,1,1,-0.55,0A0.55,0.55,0,1,1,0.55,0Z","M-4,-0.22H4V0.22H-4ZM0,-1L1,0.75H-1Z","M-4,-0.22H4V0.22H-4ZM0,-0.65L0.65,0.5H-0.65Z","M-4,-0.22H4V0.22H-4ZM0,1L-1,-0.75H1Z","M-4,-0.22H4V0.22H-4ZM0,0.65L-0.65,-0.5H0.65Z","M-4,-0.22H4V0.22H-4ZM0,-1L0.85,0L0,1L-0.85,0Z"]},
   "legend": {"orient": "bottom-right", "title": null, "offset": 6, "symbolSize": 64, "labelAlign": "right", "labelOffset": -39, "rowPadding": 0.2, "symbolOpacity": 1, "symbolStrokeWidth": 0}}
 }},
{"mark": {"type": "rule", "color": "#333333", "strokeDash": [2, 3], "strokeWidth": 1}, "encoding": {"x": {"datum": 12, "type": "quantitative", "axis": null}}},
{"mark": {"type": "line", "strokeWidth": 1.8, "strokeJoin": "round"},
 "encoding": {
  "x": {"field": "k", "type": "quantitative", "axis": {"values": [2, 4, 6, 8, 10, 12, 14], "title": "Number of clusters (k)"}},
  "y": {"field": "v", "type": "quantitative", "axis": {"values": [0.35, 0.4, 0.45, 0.5, 0.55, 0.6, 0.65, 0.7], "format": ".2~f", "title": "Average silhouette score"}},
  "color": {"field": "s", "type": "nominal"}
 }},
{"transform": [{"filter": {"field": "s", "equal": "12AM-02AM"}}], "mark": {"type": "point", "shape": "M-0.9,-0.2H-0.2V-0.9H0.2V-0.2H0.9V0.2H0.2V0.9H-0.2V0.2H-0.9Z"}, "encoding": {"x": {"field": "k", "type": "quantitative", "axis": null}, "y": {"field": "v", "type": "quantitative", "axis": null}, "color": {"field": "s", "type": "nominal"}}},
{"transform": [{"filter": {"field": "s", "equal": "02AM-04AM"}}], "mark": {"type": "point", "shape": "M-0.87,-0.61L-0.61,-0.87L0,-0.26L0.61,-0.87L0.87,-0.61L0.26,0L0.87,0.61L0.61,0.87L0,0.26L-0.61,0.87L-0.87,0.61L-0.26,0Z"}, "encoding": {"x": {"field": "k", "type": "quantitative", "axis": null}, "y": {"field": "v", "type": "quantitative", "axis": null}, "color": {"field": "s", "type": "nominal"}}},
{"transform": [{"filter": {"field": "s", "equal": "04AM-06AM"}}], "mark": {"type": "point", "shape": "M-1,-0.22H-0.22V-1H0.22V-0.22H1V0.22H0.22V1H-0.22V0.22H-1ZM-0.87,-0.61L-0.61,-0.87L0,-0.26L0.61,-0.87L0.87,-0.61L0.26,0L0.87,0.61L0.61,0.87L0,0.26L-0.61,0.87L-0.87,0.61L-0.26,0Z"}, "encoding": {"x": {"field": "k", "type": "quantitative", "axis": null}, "y": {"field": "v", "type": "quantitative", "axis": null}, "color": {"field": "s", "type": "nominal"}}},
{"transform": [{"filter": {"field": "s", "equal": "06AM-08AM"}}], "mark": {"type": "point", "shape": "M-0.9,-0.9H0.9V0.9H-0.9ZM-0.6,-0.6V0.6H0.6V-0.6ZM-0.2,-0.2H0.2V0.2H-0.2Z"}, "encoding": {"x": {"field": "k", "type": "quantitative", "axis": null}, "y": {"field": "v", "type": "quantitative", "axis": null}, "color": {"field": "s", "type": "nominal"}}},
{"transform": [{"filter": {"field": "s", "equal": "08AM-10AM"}}], "mark": {"type": "point", "shape": "M-0.85,-0.85H0.85V0.85H-0.85Z"}, "encoding": {"x": {"field": "k", "type": "quantitative", "axis": null}, "y": {"field": "v", "type": "quantitative", "axis": null}, "color": {"field": "s", "type": "nominal"}}},
{"transform": [{"filter": {"field": "s", "equal": "10AM-12PM"}}], "mark": {"type": "point", "shape": "M0.95,0A0.95,0.95,0,1,1,-0.95,0A0.95,0.95,0,1,1,0.95,0Z"}, "encoding": {"x": {"field": "k", "type": "quantitative", "axis": null}, "y": {"field": "v", "type": "quantitative", "axis": null}, "color": {"field": "s", "type": "nominal"}}},
{"transform": [{"filter": {"field": "s", "equal": "12PM-02PM"}}], "mark": {"type": "point", "shape": "M0.55,0A0.55,0.55,0,1,1,-0.55,0A0.55,0.55,0,1,1,0.55,0Z"}, "encoding": {"x": {"field": "k", "type": "quantitative", "axis": null}, "y": {"field": "v", "type": "quantitative", "axis": null}, "color": {"field": "s", "type": "nominal"}}},
{"transform": [{"filter": {"field": "s", "equal": "02PM-04PM"}}], "mark": {"type": "point", "shape": "M0,-1L1,0.75H-1Z"}, "encoding": {"x": {"field": "k", "type": "quantitative", "axis": null}, "y": {"field": "v", "type": "quantitative", "axis": null}, "color": {"field": "s", "type": "nominal"}}},
{"transform": [{"filter": {"field": "s", "equal": "04PM-06PM"}}], "mark": {"type": "point", "shape": "M0,-0.65L0.65,0.5H-0.65Z"}, "encoding": {"x": {"field": "k", "type": "quantitative", "axis": null}, "y": {"field": "v", "type": "quantitative", "axis": null}, "color": {"field": "s", "type": "nominal"}}},
{"transform": [{"filter": {"field": "s", "equal": "06PM-08PM"}}], "mark": {"type": "point", "shape": "M0,1L-1,-0.75H1Z"}, "encoding": {"x": {"field": "k", "type": "quantitative", "axis": null}, "y": {"field": "v", "type": "quantitative", "axis": null}, "color": {"field": "s", "type": "nominal"}}},
{"transform": [{"filter": {"field": "s", "equal": "08PM-10PM"}}], "mark": {"type": "point", "shape": "M0,0.65L-0.65,-0.5H0.65Z"}, "encoding": {"x": {"field": "k", "type": "quantitative", "axis": null}, "y": {"field": "v", "type": "quantitative", "axis": null}, "color": {"field": "s", "type": "nominal"}}},
{"transform": [{"filter": {"field": "s", "equal": "10PM-12AM"}}], "mark": {"type": "point", "shape": "M0,-1L0.85,0L0,1L-0.85,0Z"}, "encoding": {"x": {"field": "k", "type": "quantitative", "axis": null}, "y": {"field": "v", "type": "quantitative", "axis": null}, "color": {"field": "s", "type": "nominal"}}}
]
}
]
}
],
"spacing": 30,
"resolve": {"scale": {"color": "independent", "shape": "independent"}}
},
{
"resolve": {"scale": {"color": "independent", "shape": "independent"}},
"title": {"text": "(c) Spectral clustering", "orient": "bottom", "anchor": "middle", "font": "Liberation Serif", "fontSize": 26.5, "fontWeight": "normal", "color": "black", "offset": 20},
"vconcat": [
{
"width": 500, "height": 335,
"title": {"text": "Optimal number of clusters (Spectral, 12 time slots)", "offset": 6},
"data": {"name": "sp"},
"resolve": {"axis": {"x": "independent", "y": "independent"}},
"layer": [
{"transform": [{"filter": "datum.k < 0"}], "mark": {"type": "point"},
 "encoding": {
  "x": {"field": "k", "type": "quantitative", "scale": {"domain": [2, 14], "nice": false, "zero": false}, "axis": {"orient": "top", "values": [2, 4, 6, 8, 10, 12, 14], "labels": false, "title": null}},
  "y": {"field": "v", "type": "quantitative", "scale": {"domain": [0.2, 0.65], "nice": false, "zero": false}, "axis": {"orient": "right", "values": [0.2, 0.25, 0.3, 0.35, 0.4, 0.45, 0.5, 0.55, 0.6, 0.65], "labels": false, "title": null}},
  "color": {"field": "s", "type": "nominal", "scale": {"domain": ["12AM-02AM","02AM-04AM","04AM-06AM","06AM-08AM","08AM-10AM","10AM-12PM","12PM-02PM","02PM-04PM","04PM-06PM","06PM-08PM","08PM-10PM","10PM-12AM"], "range": ["#0d1b9e","#990000","#0b6b0b","#737373","#c71585","#fe8a5c","#87cefa","#8b0000","#191970","#808000","#db7093","#cd853f"]},
   "legend": {"orient": "bottom-right", "title": null, "offset": 6, "symbolSize": 64, "labelAlign": "right", "labelOffset": -39, "rowPadding": 0.2, "symbolOpacity": 1, "symbolStrokeWidth": 0}},
  "shape": {"field": "s", "type": "nominal", "scale": {"domain": ["12AM-02AM","02AM-04AM","04AM-06AM","06AM-08AM","08AM-10AM","10AM-12PM","12PM-02PM","02PM-04PM","04PM-06PM","06PM-08PM","08PM-10PM","10PM-12AM"], "range": ["M-4,-0.22H4V0.22H-4ZM-0.9,-0.2H-0.2V-0.9H0.2V-0.2H0.9V0.2H0.2V0.9H-0.2V0.2H-0.9Z","M-4,-0.22H4V0.22H-4ZM-0.87,-0.61L-0.61,-0.87L0,-0.26L0.61,-0.87L0.87,-0.61L0.26,0L0.87,0.61L0.61,0.87L0,0.26L-0.61,0.87L-0.87,0.61L-0.26,0Z","M-4,-0.22H4V0.22H-4ZM-1,-0.22H-0.22V-1H0.22V-0.22H1V0.22H0.22V1H-0.22V0.22H-1ZM-0.87,-0.61L-0.61,-0.87L0,-0.26L0.61,-0.87L0.87,-0.61L0.26,0L0.87,0.61L0.61,0.87L0,0.26L-0.61,0.87L-0.87,0.61L-0.26,0Z","M-4,-0.22H4V0.22H-4ZM-0.9,-0.9H0.9V0.9H-0.9ZM-0.6,-0.6V0.6H0.6V-0.6ZM-0.2,-0.2H0.2V0.2H-0.2Z","M-4,-0.22H4V0.22H-4ZM-0.85,-0.85H0.85V0.85H-0.85Z","M-4,-0.22H4V0.22H-4ZM0.95,0A0.95,0.95,0,1,1,-0.95,0A0.95,0.95,0,1,1,0.95,0Z","M-4,-0.22H4V0.22H-4ZM0.55,0A0.55,0.55,0,1,1,-0.55,0A0.55,0.55,0,1,1,0.55,0Z","M-4,-0.22H4V0.22H-4ZM0,-1L1,0.75H-1Z","M-4,-0.22H4V0.22H-4ZM0,-0.65L0.65,0.5H-0.65Z","M-4,-0.22H4V0.22H-4ZM0,1L-1,-0.75H1Z","M-4,-0.22H4V0.22H-4ZM0,0.65L-0.65,-0.5H0.65Z","M-4,-0.22H4V0.22H-4ZM0,-1L0.85,0L0,1L-0.85,0Z"]},
   "legend": {"orient": "bottom-right", "title": null, "offset": 6, "symbolSize": 64, "labelAlign": "right", "labelOffset": -39, "rowPadding": 0.2, "symbolOpacity": 1, "symbolStrokeWidth": 0}}
 }},
{"mark": {"type": "rule", "color": "#333333", "strokeDash": [2, 3], "strokeWidth": 1}, "encoding": {"x": {"datum": 9, "type": "quantitative", "axis": null}}},
{"mark": {"type": "line", "strokeWidth": 1.8, "strokeJoin": "round"},
 "encoding": {
  "x": {"field": "k", "type": "quantitative", "axis": {"values": [2, 4, 6, 8, 10, 12, 14], "title": "Number of clusters (k)"}},
  "y": {"field": "v", "type": "quantitative", "axis": {"values": [0.2, 0.25, 0.3, 0.35, 0.4, 0.45, 0.5, 0.55, 0.6, 0.65], "format": ".2~f", "title": "Average silhouette score"}},
  "color": {"field": "s", "type": "nominal"}
 }},
{"transform": [{"filter": {"field": "s", "equal": "12AM-02AM"}}], "mark": {"type": "point", "shape": "M-0.9,-0.2H-0.2V-0.9H0.2V-0.2H0.9V0.2H0.2V0.9H-0.2V0.2H-0.9Z"}, "encoding": {"x": {"field": "k", "type": "quantitative", "axis": null}, "y": {"field": "v", "type": "quantitative", "axis": null}, "color": {"field": "s", "type": "nominal"}}},
{"transform": [{"filter": {"field": "s", "equal": "02AM-04AM"}}], "mark": {"type": "point", "shape": "M-0.87,-0.61L-0.61,-0.87L0,-0.26L0.61,-0.87L0.87,-0.61L0.26,0L0.87,0.61L0.61,0.87L0,0.26L-0.61,0.87L-0.87,0.61L-0.26,0Z"}, "encoding": {"x": {"field": "k", "type": "quantitative", "axis": null}, "y": {"field": "v", "type": "quantitative", "axis": null}, "color": {"field": "s", "type": "nominal"}}},
{"transform": [{"filter": {"field": "s", "equal": "04AM-06AM"}}], "mark": {"type": "point", "shape": "M-1,-0.22H-0.22V-1H0.22V-0.22H1V0.22H0.22V1H-0.22V0.22H-1ZM-0.87,-0.61L-0.61,-0.87L0,-0.26L0.61,-0.87L0.87,-0.61L0.26,0L0.87,0.61L0.61,0.87L0,0.26L-0.61,0.87L-0.87,0.61L-0.26,0Z"}, "encoding": {"x": {"field": "k", "type": "quantitative", "axis": null}, "y": {"field": "v", "type": "quantitative", "axis": null}, "color": {"field": "s", "type": "nominal"}}},
{"transform": [{"filter": {"field": "s", "equal": "06AM-08AM"}}], "mark": {"type": "point", "shape": "M-0.9,-0.9H0.9V0.9H-0.9ZM-0.6,-0.6V0.6H0.6V-0.6ZM-0.2,-0.2H0.2V0.2H-0.2Z"}, "encoding": {"x": {"field": "k", "type": "quantitative", "axis": null}, "y": {"field": "v", "type": "quantitative", "axis": null}, "color": {"field": "s", "type": "nominal"}}},
{"transform": [{"filter": {"field": "s", "equal": "08AM-10AM"}}], "mark": {"type": "point", "shape": "M-0.85,-0.85H0.85V0.85H-0.85Z"}, "encoding": {"x": {"field": "k", "type": "quantitative", "axis": null}, "y": {"field": "v", "type": "quantitative", "axis": null}, "color": {"field": "s", "type": "nominal"}}},
{"transform": [{"filter": {"field": "s", "equal": "10AM-12PM"}}], "mark": {"type": "point", "shape": "M0.95,0A0.95,0.95,0,1,1,-0.95,0A0.95,0.95,0,1,1,0.95,0Z"}, "encoding": {"x": {"field": "k", "type": "quantitative", "axis": null}, "y": {"field": "v", "type": "quantitative", "axis": null}, "color": {"field": "s", "type": "nominal"}}},
{"transform": [{"filter": {"field": "s", "equal": "12PM-02PM"}}], "mark": {"type": "point", "shape": "M0.55,0A0.55,0.55,0,1,1,-0.55,0A0.55,0.55,0,1,1,0.55,0Z"}, "encoding": {"x": {"field": "k", "type": "quantitative", "axis": null}, "y": {"field": "v", "type": "quantitative", "axis": null}, "color": {"field": "s", "type": "nominal"}}},
{"transform": [{"filter": {"field": "s", "equal": "02PM-04PM"}}], "mark": {"type": "point", "shape": "M0,-1L1,0.75H-1Z"}, "encoding": {"x": {"field": "k", "type": "quantitative", "axis": null}, "y": {"field": "v", "type": "quantitative", "axis": null}, "color": {"field": "s", "type": "nominal"}}},
{"transform": [{"filter": {"field": "s", "equal": "04PM-06PM"}}], "mark": {"type": "point", "shape": "M0,-0.65L0.65,0.5H-0.65Z"}, "encoding": {"x": {"field": "k", "type": "quantitative", "axis": null}, "y": {"field": "v", "type": "quantitative", "axis": null}, "color": {"field": "s", "type": "nominal"}}},
{"transform": [{"filter": {"field": "s", "equal": "06PM-08PM"}}], "mark": {"type": "point", "shape": "M0,1L-1,-0.75H1Z"}, "encoding": {"x": {"field": "k", "type": "quantitative", "axis": null}, "y": {"field": "v", "type": "quantitative", "axis": null}, "color": {"field": "s", "type": "nominal"}}},
{"transform": [{"filter": {"field": "s", "equal": "08PM-10PM"}}], "mark": {"type": "point", "shape": "M0,0.65L-0.65,-0.5H0.65Z"}, "encoding": {"x": {"field": "k", "type": "quantitative", "axis": null}, "y": {"field": "v", "type": "quantitative", "axis": null}, "color": {"field": "s", "type": "nominal"}}},
{"transform": [{"filter": {"field": "s", "equal": "10PM-12AM"}}], "mark": {"type": "point", "shape": "M0,-1L0.85,0L0,1L-0.85,0Z"}, "encoding": {"x": {"field": "k", "type": "quantitative", "axis": null}, "y": {"field": "v", "type": "quantitative", "axis": null}, "color": {"field": "s", "type": "nominal"}}}
]
}
]
}
]
}
